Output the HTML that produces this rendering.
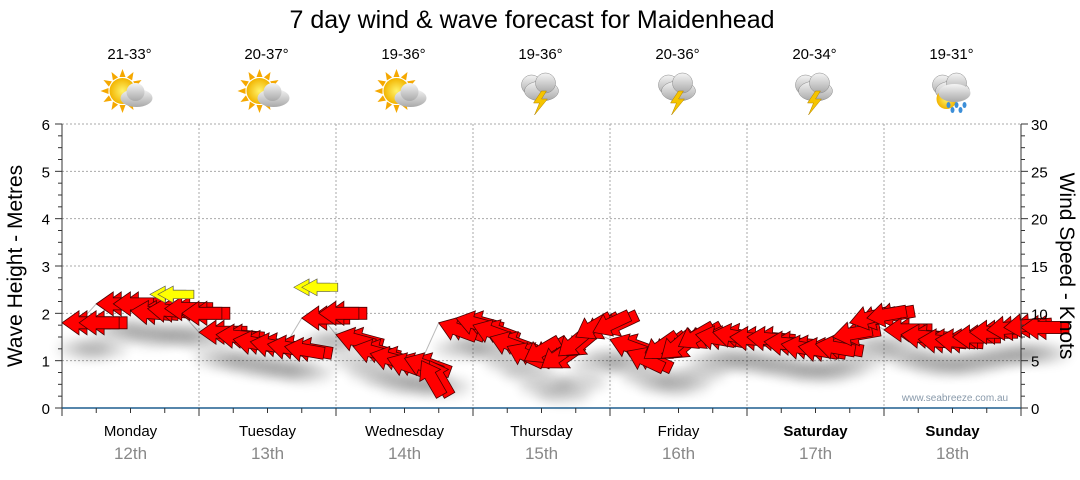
<!DOCTYPE html>
<html><head><meta charset="utf-8"><style>
body{margin:0;background:#fff;font-family:"Liberation Sans",sans-serif}
svg text{font-family:"Liberation Sans",sans-serif}
</style></head><body>
<svg id="c" width="1080" height="475" viewBox="0 0 1080 475">
<defs>
<filter id="sh" x="-50%" y="-50%" width="200%" height="300%"><feGaussianBlur stdDeviation="6"/></filter>
<radialGradient id="sun" cx="50%" cy="50%" r="50%"><stop offset="0" stop-color="#fff36a"/><stop offset="1" stop-color="#f2b400"/></radialGradient>
<linearGradient id="cl" x1="0" y1="0" x2="0" y2="1"><stop offset="0" stop-color="#f4f4f4"/><stop offset="1" stop-color="#a9a9a9"/></linearGradient>
</defs>
<text x="532" y="28" font-size="25" text-anchor="middle" fill="#000">7 day wind &amp; wave forecast for Maidenhead</text>
<g id="icons"></g>
<g id="grid"></g>
<g id="shadows"></g>
<g id="marks"></g>
<g id="axes"></g>
<text x="955" y="401" font-size="10" fill="#8899aa" text-anchor="middle">www.seabreeze.com.au</text>
<text transform="translate(22,266) rotate(-90)" font-size="21" text-anchor="middle">Wave Height - Metres</text>
<text transform="translate(1060,266) rotate(90)" font-size="21" text-anchor="middle">Wind Speed - Knots</text>
</svg>
<script>
const days=["Monday","Tuesday","Wednesday","Thursday","Friday","Saturday","Sunday"];
const dates=["12th","13th","14th","15th","16th","17th","18th"];
const temps=["21-33°","20-37°","19-36°","19-36°","20-36°","20-34°","19-31°"];
const weather=["sun","sun","sun","storm","storm","storm","rain"];
const leftTicks=[0,1,2,3,4,5,6];
const rightTicks=[0,5,10,15,20,25,30];
// 3-hourly wave heights (m)
const waveHeights=[1.8,1.8,2.2,2.2,2.05,2.1,2.1,2.0,
1.6,1.55,1.45,1.4,1.35,1.3,1.9,2.0,
1.55,1.3,1.15,1.05,1.05,1.0,1.8,1.9,
1.75,1.5,1.3,1.0,0.85,1.1,1.5,1.6,
1.45,1.2,1.05,1.05,1.3,1.55,1.6,1.5,
1.5,1.4,1.35,1.3,1.35,1.5,1.8,1.9,
1.65,1.55,1.45,1.45,1.5,1.6,1.65,1.7,1.7];
// arrow rotation in degrees (0 = pointing left, positive = clockwise)
const windDir=[0,0,0,0,5,5,0,0,
0,5,10,10,10,10,0,0,
15,15,15,20,20,60,20,15,
20,20,25,-30,-35,-40,-30,-25,
20,25,-35,-40,-30,10,10,5,
5,5,10,10,10,-10,-15,-10,
0,5,5,5,0,0,-5,-5,0];
const swellX=[0.7,1.75];
const swellH=[2.4,2.55];
const X0=62,X1=1021,Y0=408,YT=124;
const dayW=(X1-X0)/7;
const xs=t=>X0+t*dayW;
const ys=h=>Y0-h*(Y0-YT)/6;
const yk=k=>Y0-k*(Y0-YT)/30;
const NS="http://www.w3.org/2000/svg";
function mk(tag,attrs,parent){const e=document.createElementNS(NS,tag);for(const k in attrs)e.setAttribute(k,attrs[k]);parent.appendChild(e);return e;}
const grid=document.getElementById('grid'),axes=document.getElementById('axes'),marks=document.getElementById('marks'),shad=document.getElementById('shadows'),icons=document.getElementById('icons');
leftTicks.forEach((v,i)=>{
 if(v>0){const g=mk('line',{x1:X0,x2:X1,y1:ys(v),y2:ys(v),stroke:'#aaa','stroke-dasharray':'2,2'},grid);
 
 }
 const t=mk('text',{x:50,y:ys(v)+6,'font-size':15,'text-anchor':'end'},axes);t.textContent=v;
 
 
});
rightTicks.forEach(v=>{
 const t=mk('text',{x:1031,y:yk(v)+6,'font-size':15},axes);t.textContent=v;
 
 
});
for(let i=0;i<=24;i++){const y=Y0-i*(Y0-YT)/24;mk('line',{x1:X0-(i%4?4:7),x2:X0,y1:y,y2:y,stroke:'#333'},axes);mk('line',{x1:X1,x2:X1+(i%4?4:7),y1:y,y2:y,stroke:'#333'},axes);}
mk('line',{x1:X0,x2:X0,y1:YT,y2:Y0,stroke:'#333'},axes);
mk('line',{x1:X1,x2:X1,y1:YT,y2:Y0,stroke:'#333'},axes);
mk('line',{x1:X0,x2:X1,y1:Y0,y2:Y0,stroke:'#1f5f8f','stroke-width':1.5},axes);
for(let i=0;i<=28;i++){const x=xs(i/4);mk('line',{x1:x,x2:x,y1:Y0,y2:Y0+(i%4?5:8),stroke:'#333'},axes);}
days.forEach((d,i)=>{
 if(i>0){const g=mk('line',{x1:xs(i),x2:xs(i),y1:YT,y2:Y0,stroke:'#aaa','stroke-dasharray':'2,2'},grid);
 
 }
 const cx=xs(i+0.5);
 const t=mk('text',{x:cx,y:436,'font-size':15,'text-anchor':'middle','font-weight':i>=5?'bold':'normal'},axes);t.textContent=d;
 
 
 const t2=mk('text',{x:cx,y:459,'font-size':17,'text-anchor':'middle',fill:'#888'},axes);t2.textContent=dates[i];
 
 
 const t3=mk('text',{x:cx-1,y:59,'font-size':15,'text-anchor':'middle'},icons);t3.textContent=temps[i];
 
 
 const g=mk('g',{transform:`translate(${cx-2},93)`},icons);
 
 
 if(weather[i]==='sun'){
  for(let a=0;a<360;a+=30){mk('path',{d:'M-3,-14 L0,-22 L3,-14Z',fill:'#f5a800',transform:`translate(-6,-2) rotate(${a})`},g);}
  mk('circle',{cx:-6,cy:-2,r:13,fill:'url(#sun)'},g);
  mk('ellipse',{cx:8,cy:5,rx:16,ry:9,fill:'url(#cl)'},g);
  mk('circle',{cx:7,cy:-1,r:9,fill:'url(#cl)'},g);
 }else{
  mk('circle',{cx:-8,cy:-8,r:10,fill:'url(#cl)',stroke:'#888','stroke-width':.5},g);
  mk('ellipse',{cx:2,cy:-2,rx:17,ry:10,fill:'url(#cl)',stroke:'#888','stroke-width':.5},g);
  mk('circle',{cx:6,cy:-10,r:10,fill:'url(#cl)',stroke:'#888','stroke-width':.5},g);
  if(weather[i]==='storm'){mk('path',{d:'M2,-2 L-6,10 L0,10 L-5,22 L8,6 L2,6 L7,-2Z',fill:'#f5c400',stroke:'#b08000','stroke-width':.5},g);}
  else{mk('circle',{cx:-4,cy:6,r:10,fill:'url(#sun)'},g);mk('ellipse',{cx:4,cy:0,rx:16,ry:9,fill:'url(#cl)'},g);
   [[-2,12],[6,12],[14,12],[2,17],[10,17]].forEach(p=>mk('ellipse',{cx:p[0],cy:p[1],rx:2,ry:3,fill:'#3d8fd8'},g));}
 }
});
const AR='M0,0 L17,-12 L17,-6 L40,-6 L40,6 L17,6 L17,12 Z';
let pts=waveHeights.map((h,i)=>`${xs(i/8)},${ys(h)}`).join(' ');
mk('polyline',{points:pts,fill:'none',stroke:'#bbb','stroke-width':1},shad);
waveHeights.forEach((h,i)=>{
 const e=mk('ellipse',{cx:xs(i/8)+22,cy:ys(h)+26,rx:26,ry:9,fill:'#000',opacity:.16,filter:'url(#sh)'},shad);
 
 
});
waveHeights.forEach((h,i)=>{
 for(let k=1;k>=0;k--){
 const p=mk('path',{d:AR,fill:'#ff0000',stroke:'#4a0000','stroke-width':0.8,transform:`translate(${xs(i/8)+k*8},${ys(h)}) rotate(${windDir[i]})`},marks);
 
 }
});
swellX.forEach((t,i)=>{
 for(let k=0;k<2;k++){
 const p=mk('path',{d:AR,fill:'#ffff00',stroke:'#555','stroke-width':0.8,transform:`translate(${xs(t)+k*8-8},${ys(swellH[i])}) scale(0.9,0.7)`},marks);
 
 }
});
</script>
</body></html>
